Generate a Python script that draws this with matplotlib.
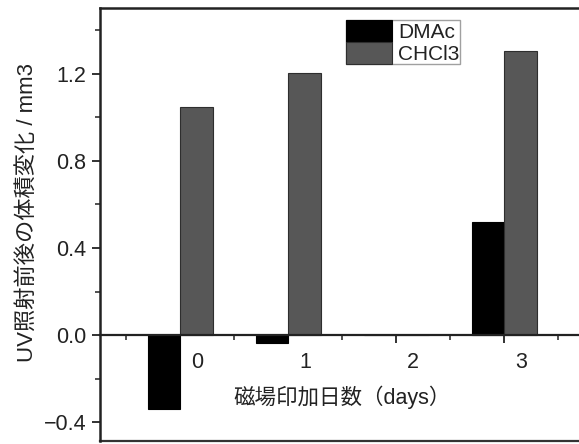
import matplotlib
matplotlib.use("Agg")
import matplotlib.pyplot as plt
from matplotlib.transforms import ScaledTranslation
from matplotlib.lines import Line2D
import numpy as np

plt.rcParams['font.family'] = ['Liberation Sans', 'Noto Sans CJK JP', 'DejaVu Sans']

days = [0, 1, 2, 3]
day_labels = ['0', '1', '2', '3']
dmac = [-0.34, -0.037, 0.0, 0.52]
chcl3 = [1.048, 1.205, 0.0, 1.306]
series_names = ['DMAc', 'CHCl3']
ylabel = 'UV照射前後の体積変化 / mm3'
xlabel = '磁場印加日数（days）'

W, H = 579, 444
fig = plt.figure(figsize=(W / 100, H / 100), dpi=100)
ax = fig.add_axes([100 / W, 3 / H, 480 / W, 433 / H])

x = np.array(days, dtype=float)
bw = 0.30
ax.bar(x - bw / 2, dmac, width=bw, color='#000000', edgecolor='#000000', linewidth=0.8,
       label=series_names[0], zorder=2)
ax.bar(x + bw / 2, chcl3, width=bw, color='#575757', edgecolor='#2e2e2e', linewidth=0.8,
       label=series_names[1], zorder=2)

ax.set_xlim(-0.743, 3.70)
ax.set_ylim(-0.487, 1.503)

# spines
for s in ['left', 'top']:
    ax.spines[s].set_linewidth(1.8)
    ax.spines[s].set_color('#222222')
ax.spines['right'].set_visible(False)
ax.spines['bottom'].set_position(('data', 0))
ax.spines['bottom'].set_linewidth(1.6)
ax.spines['bottom'].set_color('#222222')
ax.spines['bottom'].set_zorder(3)
ax.add_line(Line2D([0, 1], [0, 0], transform=ax.transAxes, color='#333333',
                   linewidth=1.6, clip_on=False))

# y ticks
ax.set_yticks([-0.4, 0.0, 0.4, 0.8, 1.2])
ax.set_yticks(np.arange(-0.4, 1.41, 0.2), minor=True)
ax.tick_params(axis='y', which='major', direction='out', length=6, width=1.3,
               labelsize=15.5, pad=4, colors='#222222')
ax.tick_params(axis='y', which='minor', direction='out', length=3.5, width=1.1,
               colors='#222222')

# x ticks
ax.set_xticks(x)
ax.set_xticklabels(day_labels)
ax.set_xticks(np.arange(-0.5, 3.6, 1.0), minor=True)
ax.tick_params(axis='x', which='major', direction='out', length=6, width=1.3,
               labelsize=15.5, pad=6, colors='#222222')
ax.tick_params(axis='x', which='minor', direction='out', length=3.5, width=1.1,
               colors='#222222')
off = ScaledTranslation(17 / 100, 0, fig.dpi_scale_trans)
for lab in ax.get_xticklabels():
    lab.set_transform(lab.get_transform() + off)

leg = ax.legend(loc='upper left', bbox_to_anchor=(0.513, 0.972), fontsize=15,
                frameon=True, fancybox=False, borderpad=0.0, labelspacing=0.0,
                handlelength=2.2, handleheight=1.25, handletextpad=0.3,
                borderaxespad=0.0)
leg.get_frame().set_edgecolor('#888888')
leg.get_frame().set_linewidth(1.0)
for t in leg.get_texts():
    t.set_color('#222222')

fig.text(27 / W, 1 - 213 / H, ylabel, rotation=90, ha='center', va='center',
         fontsize=16, color='#222222')
fig.text(342 / W, 1 - 397 / H, xlabel, ha='center', va='center', fontsize=15.5,
         color='#222222')

fig.savefig('out.png', dpi=100)
